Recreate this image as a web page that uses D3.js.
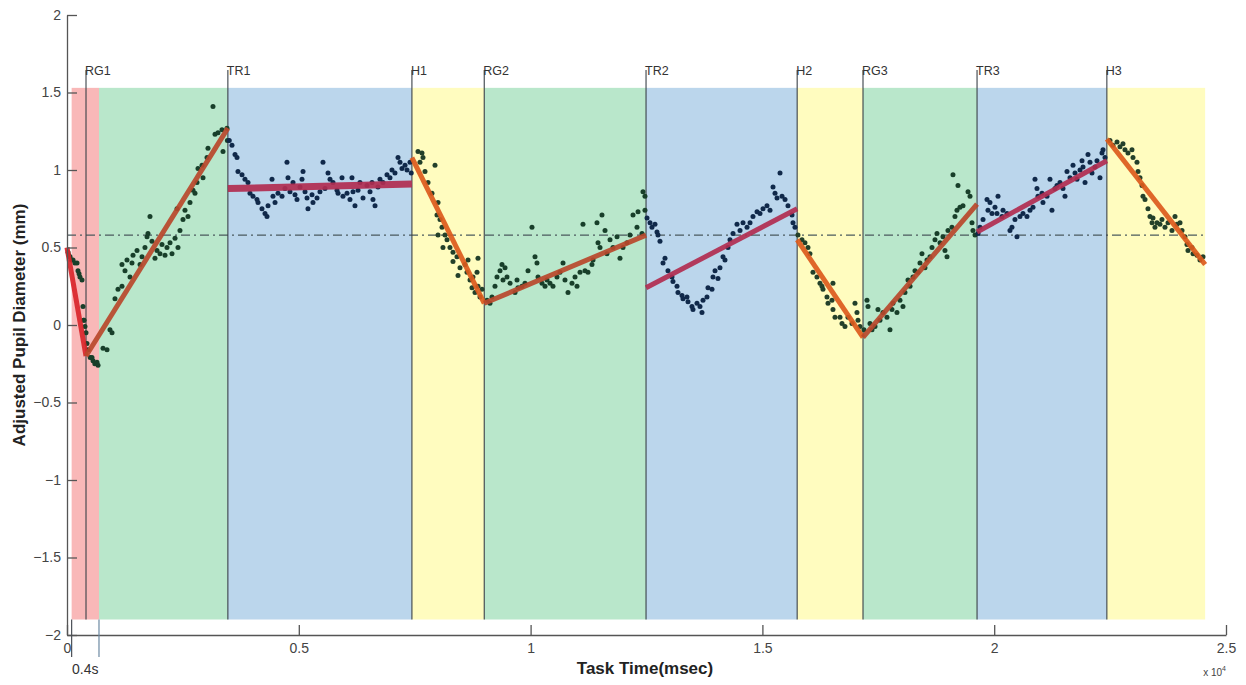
<!DOCTYPE html>
<html>
<head>
<meta charset="utf-8">
<script src="https://cdn.jsdelivr.net/npm/d3@7"></script>
<style>
  body { margin: 0; background: #fff; }
  svg text { font-family: "Liberation Sans", Arial, sans-serif; }
</style>
</head>
<body>
<svg id="chart" width="1246" height="685"></svg>
<script>
// phase markers (ms)
var markerLabels = ["RG1", "TR1", "H1", "RG2", "TR2", "H2", "RG3", "TR3", "H3"];
var markerTimes = [410, 3470, 7440, 9000, 12490, 15750, 17170, 19630, 22430];

// coloured background bands
var bandStarts = [100, 690, 3470, 7440, 9000, 12490, 15750, 17170, 19630, 22430];
var bandEnds = [690, 3470, 7440, 9000, 12490, 15750, 17170, 19630, 22430, 24550];
var bandKinds = ["rest", "rg", "tr", "h", "rg", "tr", "h", "rg", "tr", "h"];

// linear fits per phase: [t0, v0, t1, v1]
var fitT0 = [0, 410, 3470, 7440, 9000, 12490, 15750, 17170, 19630, 22430];
var fitV0 = [0.50, -0.20, 0.88, 1.08, 0.14, 0.24, 0.55, -0.08, 0.60, 1.20];
var fitT1 = [410, 3470, 7440, 9000, 12490, 15750, 17170, 19630, 22430, 24550];
var fitV1 = [-0.20, 1.27, 0.91, 0.14, 0.58, 0.75, -0.08, 0.78, 1.06, 0.39];

var baseline = 0.58;

// pupil samples [time ms, diameter mm]
var dotsRest = [[22,0.47],[40,0.45],[65,0.44],[100,0.42],[130,0.42],[170,0.40],[216,0.40],[237,0.35],[260,0.33],
  [280,0.31],[324,0.29],[345,0.12],[360,0.03],[367,0.03],[388,-0.01],[410,-0.05],[431,-0.12],[453,-0.16],
  [500,-0.21],[539,-0.21],[561,-0.23],[600,-0.25],[647,-0.24],[670,-0.26]];
var dotsRG1 = [[777,-0.15],[863,-0.16],[927,-0.03],[971,-0.05],[1035,0.17],[1100,0.23],[1186,0.25],[1186,0.39],
  [1251,0.35],[1294,0.42],[1359,0.31],[1402,0.40],[1424,0.45],[1510,0.48],[1575,0.39],[1618,0.44],[1682,0.50],
  [1726,0.57],[1747,0.59],[1790,0.70],[1833,0.54],[1898,0.43],[1941,0.48],[2006,0.46],[2049,0.52],[2114,0.45],
  [2157,0.50],[2222,0.53],[2265,0.46],[2330,0.56],[2373,0.75],[2394,0.50],[2437,0.61],[2502,0.68],[2545,0.74],
  [2610,0.70],[2653,0.79],[2718,0.87],[2761,0.85],[2804,0.92],[2826,1.01],[2912,1.03],[2934,0.95],[3020,1.08],
  [3041,1.14],[3149,1.41],[3193,1.23],[3257,1.24],[3343,1.26],[3365,1.12],[3451,1.27],[3460,1.19]];
var dotsTR1 = [[3500,1.19],[3559,1.16],[3624,1.10],[3667,1.08],[3688,0.99],[3775,0.97],[3839,0.94],[3904,0.92],
  [3947,0.85],[4012,0.83],[4098,0.81],[4120,0.79],[4206,0.75],[4271,0.72],[4314,0.70],[4336,0.77],[4422,0.94],
  [4443,0.83],[4487,0.79],[4551,0.85],[4638,0.83],[4702,0.88],[4745,1.05],[4767,0.95],[4810,0.86],[4875,0.92],
  [4918,0.84],[4961,0.81],[5026,0.89],[5069,0.94],[5091,0.99],[5134,0.86],[5177,0.82],[5198,0.75],[5285,0.84],
  [5306,0.79],[5393,0.82],[5457,0.86],[5522,1.05],[5565,0.88],[5630,0.98],[5673,0.94],[5738,0.92],[5824,0.87],
  [5846,0.85],[5932,0.95],[5953,0.83],[6040,0.85],[6104,0.81],[6147,0.95],[6169,0.86],[6212,0.77],[6277,0.87],
  [6320,0.92],[6385,0.82],[6471,0.90],[6536,0.86],[6579,0.92],[6600,0.81],[6644,0.77],[6708,0.89],[6751,0.94],
  [6816,0.92],[6902,0.97],[6967,0.95],[7010,1.00],[7075,0.98],[7140,1.08],[7183,1.05],[7226,1.01],[7291,1.03],
  [7334,1.00],[7399,1.05],[7425,0.98]];
var dotsH1 = [[7571,1.12],[7614,1.05],[7657,1.11],[7679,1.08],[7722,0.99],[7787,0.92],[7873,0.85],[7938,1.03],
  [7981,0.71],[8003,0.79],[8003,0.58],[8046,0.68],[8089,0.63],[8110,0.50],[8153,0.58],[8197,0.55],[8261,0.50],
  [8326,0.47],[8326,0.41],[8412,0.44],[8434,0.32],[8477,0.37],[8585,0.39],[8628,0.34],[8650,0.42],[8693,0.29],
  [8736,0.24],[8757,0.31],[8801,0.21],[8844,0.34],[8865,0.43],[8865,0.25],[8908,0.18],[8952,0.23]];
var dotsRG2 = [[9059,0.16],[9124,0.14],[9167,0.18],[9232,0.25],[9275,0.31],[9340,0.35],[9383,0.39],[9405,0.29],
  [9448,0.37],[9491,0.31],[9556,0.27],[9664,0.21],[9707,0.29],[9728,0.24],[9814,0.25],[9879,0.27],[9944,0.35],
  [10030,0.63],[10095,0.44],[10138,0.40],[10160,0.31],[10246,0.27],[10311,0.25],[10354,0.29],[10418,0.27],
  [10483,0.25],[10569,0.31],[10634,0.34],[10699,0.40],[10742,0.29],[10807,0.21],[10893,0.27],[10958,0.31],
  [11001,0.25],[11066,0.34],[11130,0.65],[11173,0.35],[11238,0.34],[11324,0.39],[11346,0.42],[11432,0.66],
  [11454,0.53],[11497,0.50],[11540,0.71],[11605,0.61],[11648,0.46],[11713,0.55],[11777,0.50],[11864,0.57],
  [11928,0.43],[11993,0.50],[12079,0.53],[12144,0.58],[12209,0.71],[12295,0.63],[12317,0.73],[12403,0.59],
  [12424,0.86],[12467,0.74],[12467,0.83]];
var dotsTR2 = [[12511,0.69],[12576,0.66],[12618,0.63],[12683,0.65],[12726,0.60],[12748,0.58],[12791,0.54],
  [12856,0.40],[12899,0.43],[12963,0.35],[13050,0.31],[13071,0.28],[13158,0.25],[13179,0.21],[13266,0.19],
  [13287,0.17],[13373,0.18],[13395,0.15],[13481,0.12],[13503,0.10],[13589,0.14],[13654,0.12],[13697,0.08],
  [13719,0.16],[13805,0.18],[13826,0.24],[13913,0.23],[13934,0.31],[13978,0.35],[14042,0.30],[14085,0.37],
  [14150,0.44],[14193,0.42],[14258,0.50],[14301,0.55],[14366,0.59],[14452,0.65],[14517,0.61],[14582,0.66],
  [14668,0.63],[14733,0.66],[14797,0.70],[14884,0.73],[14948,0.72],[15013,0.75],[15099,0.77],[15164,0.74],
  [15229,0.89],[15272,0.85],[15315,0.82],[15380,0.98],[15423,0.83],[15488,0.81],[15552,0.77],[15639,0.71],
  [15660,0.66],[15703,0.63]];
var dotsH2 = [[15767,0.58],[15854,0.55],[15918,0.53],[15983,0.50],[16026,0.46],[16091,0.34],[16177,0.31],
  [16242,0.27],[16285,0.25],[16307,0.23],[16393,0.18],[16415,0.14],[16501,0.16],[16522,0.27],[16522,0.10],
  [16566,0.05],[16674,0.05],[16717,0.01],[16781,-0.01],[16846,0.05],[16932,0.01],[16997,0.14],[17040,0.08],
  [17062,0.03],[17105,-0.01]];
var dotsRG3 = [[17190,-0.03],[17256,0.16],[17278,0.12],[17321,0.01],[17364,-0.03],[17429,-0.01],[17493,0.10],
  [17536,0.03],[17601,0.08],[17687,0.05],[17752,-0.03],[17795,0.10],[17816,0.14],[17903,0.08],[17968,0.16],
  [18032,0.12],[18075,0.21],[18140,0.29],[18184,0.25],[18248,0.31],[18291,0.35],[18356,0.34],[18399,0.40],
  [18442,0.46],[18507,0.37],[18550,0.42],[18615,0.44],[18658,0.50],[18723,0.55],[18766,0.59],[18831,0.53],
  [18895,0.57],[18938,0.48],[18982,0.44],[19003,0.61],[19089,0.63],[19111,0.97],[19154,0.70],[19197,0.74],
  [19219,0.90],[19262,0.76],[19327,0.77],[19435,0.86],[19478,0.83],[19521,0.66],[19542,0.61],[19586,0.58]];
var dotsTR3 = [[19651,0.59],[19694,0.63],[19759,0.68],[19845,0.81],[19866,0.74],[19909,0.79],[19952,0.72],
  [20017,0.76],[20060,0.72],[20082,0.83],[20168,0.70],[20190,0.74],[20276,0.72],[20340,0.61],[20383,0.63],
  [20448,0.68],[20491,0.57],[20556,0.70],[20621,0.72],[20707,0.70],[20772,0.74],[20837,0.76],[20880,0.94],
  [20923,0.88],[20944,0.83],[21031,0.85],[21052,0.79],[21139,0.83],[21203,0.94],[21246,0.74],[21311,0.88],
  [21354,0.90],[21419,0.92],[21484,0.88],[21527,0.83],[21570,0.99],[21635,0.95],[21700,1.03],[21743,0.98],
  [21786,0.94],[21851,1.00],[21894,1.06],[21916,1.02],[21959,0.92],[22023,1.10],[22066,1.05],[22109,0.98],
  [22174,1.02],[22217,1.06],[22282,0.95],[22325,1.11],[22347,1.13],[22390,1.08]];
var dotsH3 = [[22497,1.19],[22562,1.16],[22649,1.18],[22713,1.15],[22778,1.17],[22821,1.13],[22886,1.11],
  [22972,1.13],[22994,1.08],[23080,1.05],[23102,0.99],[23145,0.95],[23188,0.90],[23209,0.83],[23253,0.81],
  [23317,0.75],[23360,0.70],[23404,0.66],[23425,0.69],[23468,0.63],[23511,0.66],[23576,0.65],[23619,0.68],
  [23684,0.63],[23749,0.66],[23835,0.61],[23900,0.70],[23943,0.65],[24008,0.66],[24051,0.61],[24115,0.57],
  [24158,0.52],[24180,0.48],[24266,0.50],[24288,0.46],[24374,0.45],[24439,0.42],[24504,0.44]];

var dotSets = [dotsRest, dotsRG1, dotsTR1, dotsH1, dotsRG2, dotsTR2, dotsH2, dotsRG3, dotsTR3, dotsH3];

var xTicks = [0, 5000, 10000, 15000, 20000, 25000];
var xTickLabels = ["0", "0.5", "1", "1.5", "2", "2.5"];
var yTicks = [-2, -1.5, -1, -0.5, 0, 0.5, 1, 1.5, 2];

var bandColor = { rest: "#f9b8b8", rg: "#b9e7cb", tr: "#bbd6ec", h: "#fffcbf" };
var fitColor = { rest: "#d9252a", rg: "#b9482b", tr: "#b12c50", h: "#dc5a1c" };
var dotColor = { rest: "#183f2a", rg: "#183f2a", tr: "#10294a", h: "#23402a" };

var svg = d3.select("#chart");

var x = d3.scaleLinear().domain([0, 25000]).range([67, 1226]);
var y = d3.scaleLinear().domain([-2, 2]).range([635, 15]);

// bands
svg.selectAll("rect.band")
    .data(bandStarts)
    .enter()
    .append("rect")
        .attr("class", "band")
        .attr("x", function(d) { return x(d); })
        .attr("width", function(d, i) { return x(bandEnds[i]) - x(d); })
        .attr("y", y(1.53))
        .attr("height", y(-1.9) - y(1.53))
        .attr("fill", function(d, i) { return bandColor[bandKinds[i]]; });

// baseline dash-dot
svg.append("line")
    .attr("x1", x(0)).attr("x2", x(24550))
    .attr("y1", y(baseline)).attr("y2", y(baseline))
    .attr("stroke", "#4b5a5e")
    .attr("stroke-width", 1.2)
    .attr("stroke-dasharray", "9,4,2,4");

// marker lines + labels
svg.selectAll("line.marker")
    .data(markerTimes)
    .enter()
    .append("line")
        .attr("class", "marker")
        .attr("x1", function(d) { return x(d); })
        .attr("x2", function(d) { return x(d); })
        .attr("y1", y(1.645))
        .attr("y2", y(-1.9))
        .attr("stroke", "#3a4148")
        .attr("stroke-width", 1.1);

svg.selectAll("text.marker")
    .data(markerTimes)
    .enter()
    .append("text")
        .attr("class", "marker")
        .attr("x", function(d) { return x(d) - 1; })
        .attr("y", y(1.61))
        .attr("font-size", 12.5)
        .attr("fill", "#333")
        .text(function(d, i) { return markerLabels[i]; });

// dots
dotSets.forEach(function(set, k) {
    svg.append("g")
        .selectAll("circle")
        .data(set)
        .enter()
        .append("circle")
            .attr("cx", function(d) { return x(d[0]); })
            .attr("cy", function(d) { return y(d[1]); })
            .attr("r", 2.5)
            .attr("fill", dotColor[bandKinds[k]]);
});

// fit lines
svg.selectAll("line.fit")
    .data(fitT0)
    .enter()
    .append("line")
        .attr("class", "fit")
        .attr("x1", function(d) { return x(d); })
        .attr("y1", function(d, i) { return y(fitV0[i]); })
        .attr("x2", function(d, i) { return x(fitT1[i]); })
        .attr("y2", function(d, i) { return y(fitV1[i]); })
        .attr("stroke", function(d, i) { return fitColor[bandKinds[i]]; })
        .attr("stroke-width", function(d, i) { return i == 2 ? 7 : 5; })
        .attr("stroke-opacity", 0.92);

// axes
var yAxis = d3.axisLeft(y).tickValues(yTicks).tickSize(-10).tickSizeOuter(0).tickPadding(6)
    .tickFormat(d3.format("~g"));
var xAxis = d3.axisBottom(x).tickValues(xTicks).tickSize(-10).tickSizeOuter(0).tickPadding(8)
    .tickFormat(function(d, i) { return xTickLabels[i]; });

var gy = svg.append("g").attr("transform", "translate(67,0)").call(yAxis);
var gx = svg.append("g").attr("transform", "translate(0,635)").call(xAxis);

[gx, gy].forEach(function(g) {
    g.select(".domain").attr("stroke", "#555").attr("stroke-width", 1.3);
    g.selectAll(".tick line").attr("stroke", "#555").attr("stroke-width", 1.3);
    g.selectAll(".tick text").attr("fill", "#444").attr("font-size", 14)
        .attr("font-family", "Liberation Sans, Arial, sans-serif");
});

// 0.4s annotation
var annoTop = y(-1.9), annoBottom = y(-2) + 22;
[100, 690].forEach(function(t, i) {
    svg.append("line")
        .attr("x1", x(t)).attr("x2", x(t))
        .attr("y1", annoTop).attr("y2", annoBottom)
        .attr("stroke", i == 0 ? "#4a4f55" : "#6d8aa3")
        .attr("stroke-width", 1.2);
});
svg.append("text")
    .attr("x", (x(100) + x(690)) / 2)
    .attr("y", y(-2) + 39)
    .attr("text-anchor", "middle")
    .attr("font-size", 14)
    .attr("fill", "#333")
    .text("0.4s");

// axis titles
svg.append("text")
    .attr("x", 645).attr("y", 674)
    .attr("text-anchor", "middle")
    .attr("font-size", 17).attr("font-weight", "bold")
    .attr("fill", "#222")
    .text("Task Time(msec)");

svg.append("text")
    .attr("transform", "translate(25,325) rotate(-90)")
    .attr("text-anchor", "middle")
    .attr("font-size", 17).attr("font-weight", "bold")
    .attr("fill", "#222")
    .text("Adjusted Pupil Diameter (mm)");

var exp = svg.append("text")
    .attr("x", 1226).attr("y", 676)
    .attr("text-anchor", "end")
    .attr("font-size", 10)
    .attr("fill", "#444");
exp.append("tspan").text("x 10");
exp.append("tspan").attr("dy", -5).attr("font-size", 7).text("4");
</script>
</body>
</html>
